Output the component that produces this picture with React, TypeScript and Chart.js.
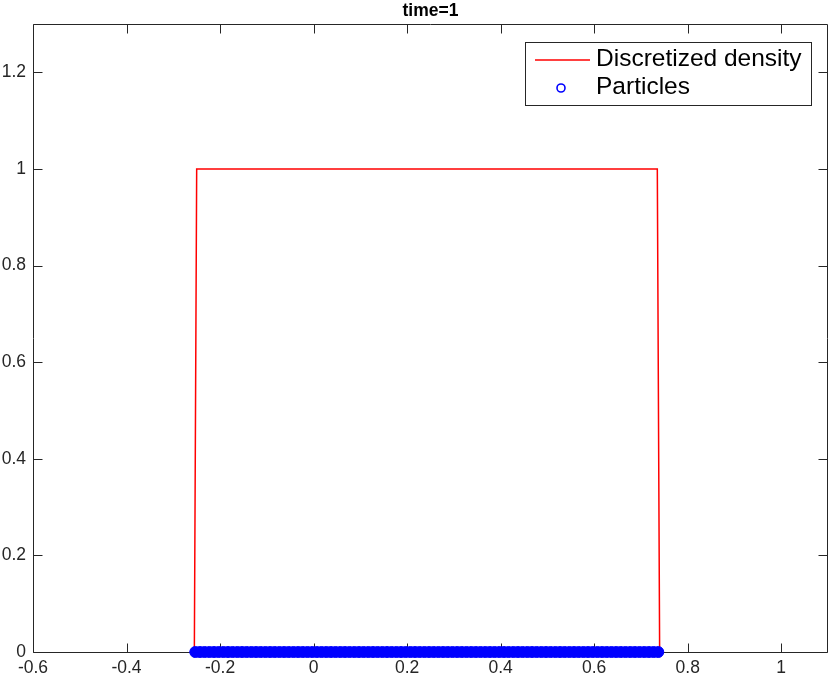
import React, { useEffect, useRef } from "react";
import { Chart, registerables } from "chart.js";

Chart.register(...registerables);

const titleText = "time=1";
const legendLabels = ["Discretized density", "Particles"];

// Discretized density (step profile)
const densityX = [-0.255, -0.25, 0.735, 0.74];
const densityY = [0, 1, 1, 0];

// Particle positions (all lying on y = 0)
const particleX = [
  -0.253, -0.243, -0.233, -0.223, -0.213, -0.203, -0.193, -0.183, -0.173, -0.163,
  -0.153, -0.143, -0.133, -0.123, -0.113, -0.103, -0.093, -0.083, -0.073, -0.063,
  -0.053, -0.043, -0.033, -0.023, -0.013, -0.003, 0.007, 0.017, 0.027, 0.037,
  0.047, 0.057, 0.067, 0.077, 0.087, 0.097, 0.107, 0.117, 0.127, 0.137,
  0.147, 0.157, 0.167, 0.177, 0.187, 0.197, 0.207, 0.217, 0.227, 0.237,
  0.247, 0.257, 0.267, 0.277, 0.287, 0.297, 0.307, 0.317, 0.327, 0.337,
  0.347, 0.357, 0.367, 0.377, 0.387, 0.397, 0.407, 0.417, 0.427, 0.437,
  0.447, 0.457, 0.467, 0.477, 0.487, 0.497, 0.507, 0.517, 0.527, 0.537,
  0.547, 0.557, 0.567, 0.577, 0.587, 0.597, 0.607, 0.617, 0.627, 0.637,
  0.647, 0.657, 0.667, 0.677, 0.687, 0.697, 0.707, 0.717, 0.727, 0.737,
];
const particleLevel = 0;

const xTickValues = [-0.6, -0.4, -0.2, 0, 0.2, 0.4, 0.6, 0.8, 1];
const xTickLabels = ["-0.6", "-0.4", "-0.2", "0", "0.2", "0.4", "0.6", "0.8", "1"];
const yTickValues = [0, 0.2, 0.4, 0.6, 0.8, 1, 1.2];
const yTickLabels = ["0", "0.2", "0.4", "0.6", "0.8", "1", "1.2"];

const xMin = -0.6;
const xMax = 1.1;
const yMin = 0;
const yMax = 1.3;

const FONT = '"Liberation Sans", Arial, Helvetica, sans-serif';
const AXIS_COLOR = "#262626";
const RED = "#ff0000";
const BLUE = "#0000ff";

const framePlugin = {
  id: "matlabFrame",
  beforeDatasetsDraw(chart: any) {
    const { ctx, chartArea: a, scales } = chart;
    const L = Math.round(a.left) + 0.5;
    const R = Math.round(a.right) - 0.5;
    const T = Math.round(a.top) + 0.5;
    const B = Math.round(a.bottom) + 0.5;
    const tl = 9;
    ctx.save();
    ctx.strokeStyle = AXIS_COLOR;
    ctx.lineWidth = 1;
    ctx.beginPath();
    ctx.rect(L, T, R - L, B - T);
    for (const t of scales.x.ticks) {
      const px = Math.round(scales.x.getPixelForValue(t.value)) + 0.5;
      ctx.moveTo(px, B);
      ctx.lineTo(px, B - tl);
      ctx.moveTo(px, T);
      ctx.lineTo(px, T + tl);
    }
    for (const t of scales.y.ticks) {
      const py = Math.round(scales.y.getPixelForValue(t.value)) + 0.5;
      ctx.moveTo(L, py);
      ctx.lineTo(L + tl, py);
      ctx.moveTo(R, py);
      ctx.lineTo(R - tl, py);
    }
    ctx.stroke();

    // title, centred over the axes box
    ctx.fillStyle = "#000000";
    ctx.font = `bold 17.5px ${FONT}`;
    ctx.textAlign = "center";
    ctx.textBaseline = "alphabetic";
    ctx.fillText(titleText, (a.left + a.right) / 2, 15.5);
    ctx.restore();
  },
};

const legendPlugin = {
  id: "matlabLegend",
  afterDraw(chart: any) {
    const { ctx, chartArea: a } = chart;
    const boxRight = Math.round(a.right) - 17;
    const boxLeft = boxRight - 286;
    const boxTop = Math.round(a.top) + 18;
    const boxBottom = boxTop + 63;
    ctx.save();
    ctx.fillStyle = "#ffffff";
    ctx.fillRect(boxLeft, boxTop, boxRight - boxLeft, boxBottom - boxTop);
    ctx.strokeStyle = AXIS_COLOR;
    ctx.lineWidth = 1;
    ctx.strokeRect(boxLeft + 0.5, boxTop + 0.5, boxRight - boxLeft, boxBottom - boxTop);

    const row1 = boxTop + 18;
    const row2 = boxTop + 46;
    ctx.strokeStyle = RED;
    ctx.lineWidth = 1.5;
    ctx.beginPath();
    ctx.moveTo(boxLeft + 10, row1);
    ctx.lineTo(boxLeft + 65, row1);
    ctx.stroke();

    ctx.strokeStyle = BLUE;
    ctx.lineWidth = 1.6;
    ctx.beginPath();
    ctx.arc(boxLeft + 36, row2, 4, 0, Math.PI * 2);
    ctx.stroke();

    ctx.fillStyle = "#000000";
    ctx.font = `24.5px ${FONT}`;
    ctx.textAlign = "left";
    ctx.textBaseline = "alphabetic";
    ctx.fillText(legendLabels[0], boxLeft + 71, boxTop + 24);
    ctx.fillText(legendLabels[1], boxLeft + 71, boxTop + 52);
    ctx.restore();
  },
};

export default function App() {
  const canvasRef = useRef<HTMLCanvasElement | null>(null);

  useEffect(() => {
    const canvas = canvasRef.current;
    if (!canvas) return;
    const chart = new Chart(canvas, {
      type: "scatter",
      data: {
        datasets: [
          {
            type: "scatter",
            label: legendLabels[1],
            data: particleX.map((x) => ({ x, y: particleLevel })),
            pointRadius: 5.5,
            pointBackgroundColor: BLUE,
            pointBorderColor: BLUE,
            pointBorderWidth: 1,
            showLine: false,
            clip: false,
            order: 0,
          } as any,
          {
            type: "line",
            label: legendLabels[0],
            data: densityX.map((x, i) => ({ x, y: densityY[i] })),
            borderColor: RED,
            borderWidth: 1.5,
            pointRadius: 0,
            fill: false,
            tension: 0,
            showLine: true,
            order: 1,
          } as any,
        ],
      },
      options: {
        animation: false,
        responsive: false,
        devicePixelRatio: 1,
        events: [],
        layout: { autoPadding: false, padding: { top: 24, left: 0, right: 0, bottom: 0 } },
        plugins: {
          legend: { display: false },
          tooltip: { enabled: false },
          title: { display: false },
        },
        scales: {
          x: {
            type: "linear",
            min: xMin,
            max: xMax,
            afterBuildTicks(scale: any) {
              scale.ticks = xTickValues.map((v) => ({ value: v }));
            },
            afterFit(scale: any) {
              scale.height = 27;
              scale.paddingLeft = 0;
              scale.paddingRight = 0;
            },
            grid: { display: false, drawTicks: false },
            border: { display: false },
            ticks: {
              autoSkip: false,
              maxRotation: 0,
              color: AXIS_COLOR,
              padding: 6,
              font: { family: FONT, size: 17.5 },
              callback: (_v: any, i: number) => xTickLabels[i],
            },
          },
          y: {
            type: "linear",
            min: yMin,
            max: yMax,
            afterBuildTicks(scale: any) {
              scale.ticks = yTickValues.map((v) => ({ value: v }));
            },
            afterFit(scale: any) {
              scale.width = 33;
              scale.paddingTop = 0;
              scale.paddingBottom = 0;
            },
            grid: { display: false, drawTicks: false },
            border: { display: false },
            ticks: {
              autoSkip: false,
              color: AXIS_COLOR,
              padding: 7,
              font: { family: FONT, size: 17.5 },
              callback: (_v: any, i: number) => yTickLabels[i],
            },
          },
        },
      } as any,
      plugins: [framePlugin, legendPlugin],
    });
    return () => chart.destroy();
  }, []);

  return (
    <div
      style={{
        position: "fixed",
        left: 0,
        top: 0,
        width: 828,
        height: 679,
        background: "#ffffff",
      }}
    >
      <canvas ref={canvasRef} width={828} height={679} style={{ display: "block" }} />
    </div>
  );
}
